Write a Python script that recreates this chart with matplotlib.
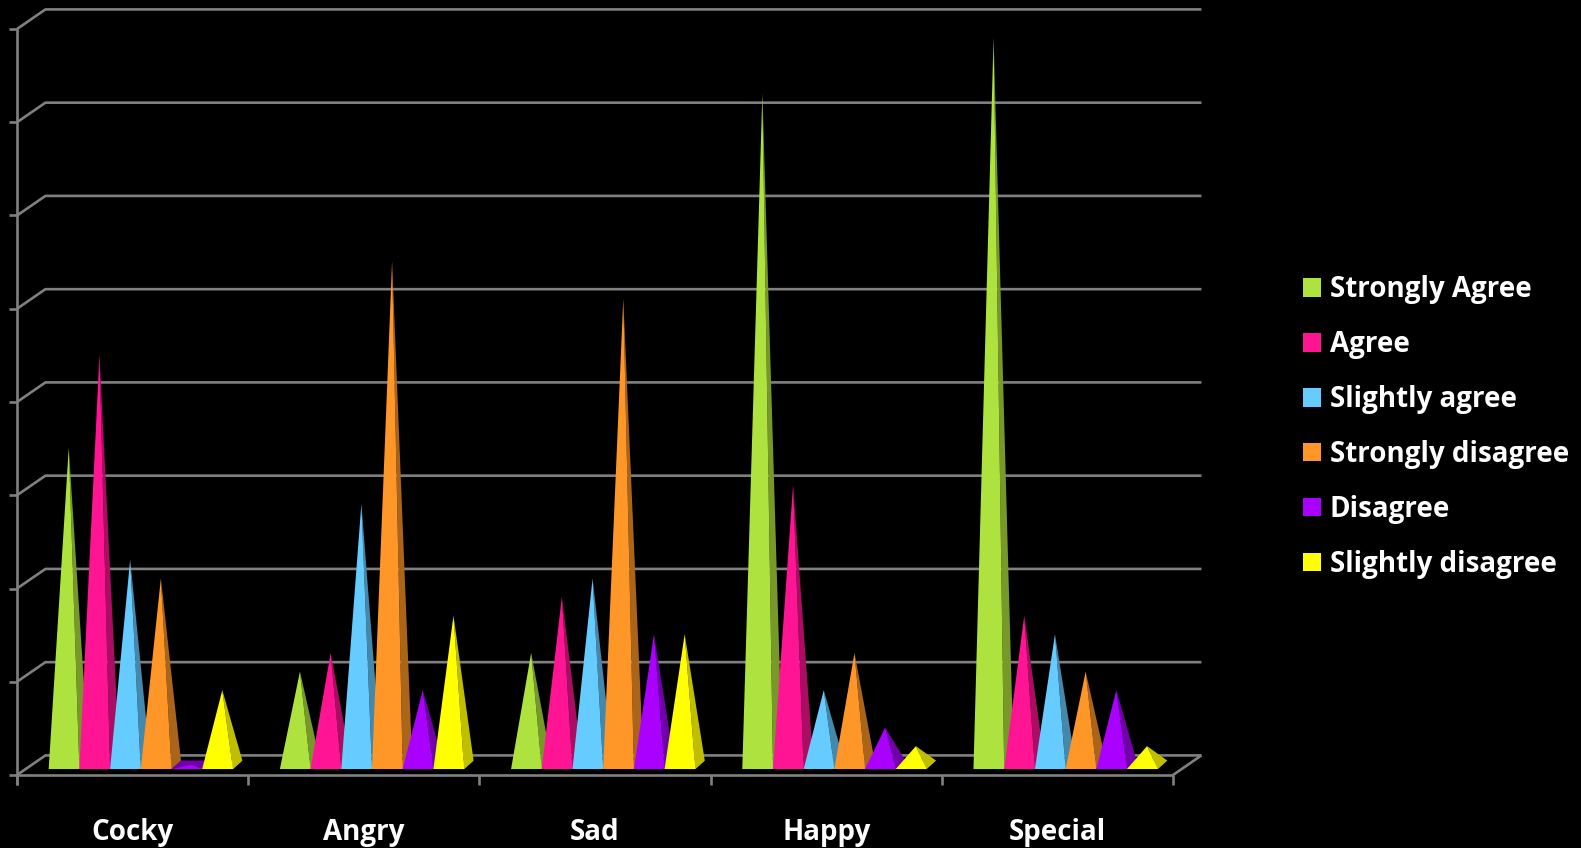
import matplotlib
matplotlib.use('Agg')
import matplotlib.pyplot as plt
from matplotlib.patches import Patch, Polygon

categories = ['Cocky', 'Angry', 'Sad', 'Happy', 'Special']
series_names = ['Strongly Agree', 'Agree', 'Slightly agree',
                'Strongly disagree', 'Disagree', 'Slightly disagree']
strongly_agree = [17, 5, 6, 36, 39]
agree = [22, 6, 9, 15, 8]
slightly_agree = [11, 14, 10, 4, 7]
strongly_disagree = [10, 27, 25, 6, 5]
disagree = [0, 4, 7, 2, 4]
slightly_disagree = [4, 8, 7, 1, 1]
y_ticks = [0, 5, 10, 15, 20, 25, 30, 35, 40]

series = [strongly_agree, agree, slightly_agree,
          strongly_disagree, disagree, slightly_disagree]
colors = ['#AEE33F', '#FF1493', '#66CCFF', '#FF9628', '#AA00FF', '#FFFF00']
side_colors = ['#76992A', '#AA0D62', '#4488AB', '#AB651B', '#7100AA', '#BFBF00']

FONT = 'Open Sans'
GRID = '#808080'

# oblique floor depth, in data units
WALL_DX = 0.123
WALL_DY = 1.05
# pyramid geometry, in data units
BAR_W = 0.1328
BAR_DX = 0.041
BAR_DY = 0.456
BAR_Y0 = 0.32
GROUP_OFF = 0.137

fig = plt.figure(figsize=(15.81, 8.48), dpi=100, facecolor='black')
ax = fig.add_axes([17 / 1581, 73 / 848, 1156 / 1581, 746 / 848])
ax.set_xlim(0, len(categories))
ax.set_ylim(0, 40)
ax.axis('off')


def line(xs, ys):
    ax.plot(xs, ys, color=GRID, lw=1.9, clip_on=False, solid_capstyle='butt', zorder=1)


# back wall lines and the slanted bits on the left
for v in y_ticks:
    line([0, WALL_DX, len(categories) + WALL_DX], [v, v + WALL_DY, v + WALL_DY])
    line([-0.033, 0], [v, v])
line([len(categories), len(categories) + WALL_DX], [0, WALL_DY])

# front axes
line([0, 0], [-0.55, 40])
line([0, len(categories)], [0, 0])
for i in range(len(categories) + 1):
    line([i, i], [-0.55, 0])

for i, name in enumerate(categories):
    ax.text(i + 0.5, -3.08, name, color='white', fontsize=20, fontweight='bold',
            family=FONT, ha='center', va='center', clip_on=False)

for s, values in enumerate(series):
    for i, v in enumerate(values):
        x0 = i + GROUP_OFF + s * BAR_W
        x1 = x0 + BAR_W
        tip = ((x0 + x1 + BAR_DX) / 2, BAR_Y0 + BAR_DY / 2 + v)
        base = [(x0, BAR_Y0), (x1, BAR_Y0), (x1 + BAR_DX, BAR_Y0 + BAR_DY),
                (x0 + BAR_DX, BAR_Y0 + BAR_DY)]
        z = 2 + s * 0.1
        ax.add_patch(Polygon(base, closed=True, fc=side_colors[s], ec='none',
                             clip_on=False, zorder=z))
        ax.add_patch(Polygon([base[1], base[2], tip], closed=True, fc=side_colors[s],
                             ec='none', clip_on=False, zorder=z))
        ax.add_patch(Polygon([base[0], base[1], tip], closed=True, fc=colors[s],
                             ec='none', clip_on=False, zorder=z))

handles = [Patch(fc=c, ec='none', label=n) for c, n in zip(colors, series_names)]
leg = fig.legend(handles=handles, loc='center left', bbox_to_anchor=(1278 / 1581, 1 - 427 / 848),
                 frameon=False, labelcolor='white', handlelength=0.65,
                 handleheight=0.65, handletextpad=0.32, labelspacing=0.93,
                 prop={'family': FONT, 'weight': 'bold', 'size': 20})

fig.savefig('out.png', dpi=100, facecolor='black')
